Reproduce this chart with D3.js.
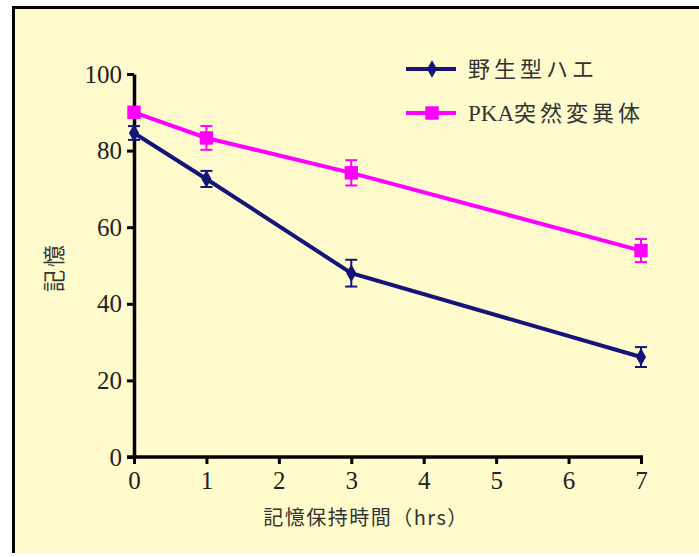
<!DOCTYPE html>
<html><head><meta charset="utf-8">
<script src="https://cdn.jsdelivr.net/npm/d3@7"></script>
<style>html,body{margin:0;padding:0;background:#fff;}</style>
</head><body>
<svg id="c" width="699" height="557"></svg>
<script>
const hours = [0, 1, 3, 7];
const wildValues = [84.6, 72.6, 48.0, 26.1];
const wildErrors = [1.8, 2.1, 3.5, 2.6];
const pkaValues = [90, 83.3, 74.2, 53.9];
const pkaErrors = [1.0, 3.1, 3.3, 3.0];
const seriesNames = ["野生型ハエ", "PKA突然変異体"];
const xTicks = [0, 1, 2, 3, 4, 5, 6, 7];
const yTicks = [0, 20, 40, 60, 80, 100];
const xTitle = "記憶保持時間（hrs）";
const yTitle = "記憶";

const svg = d3.select("#c");
svg.append("rect").attr("x", 14).attr("y", 8).attr("width", 690).attr("height", 545)
  .attr("fill", "#fffbcc");
svg.append("path").attr("d", "M13.5,553V7.5H699").attr("fill", "none")
  .attr("stroke", "#000").attr("stroke-width", 3);

const x = d3.scaleLinear().domain([0, 7]).range([134, 641]);
const y = d3.scaleLinear().domain([0, 100]).range([457, 74]);
const latin = "'Liberation Serif', 'DejaVu Serif', serif";
const cjk = "'Noto Sans CJK JP', sans-serif";

const xa = svg.append("g").attr("transform", "translate(0,457)")
  .call(d3.axisBottom(x).tickValues(xTicks).tickFormat(d3.format("d")).tickSize(7).tickPadding(7).tickSizeOuter(0));
const ya = svg.append("g").attr("transform", "translate(134,0)")
  .call(d3.axisLeft(y).tickValues(yTicks).tickFormat(d3.format("d")).tickSize(7).tickPadding(5).tickSizeOuter(0));
[xa, ya].forEach(a => {
  a.attr("font-size", null).attr("font-family", null);
  a.select(".domain").attr("stroke", "#000").attr("stroke-width", 3.5);
  a.selectAll(".tick line").attr("stroke", "#000").attr("stroke-width", 3);
  a.selectAll(".tick text").style("font-family", latin).style("font-size", "25px").attr("fill", "#222");
});
xa.select(".domain").attr("d", "M127,0H643");

svg.append("text").attr("x", 366).attr("y", 525).attr("text-anchor", "middle")
  .style("font-family", cjk).style("font-size", "20px").attr("letter-spacing", 1.5).attr("fill", "#333").text(xTitle);
svg.append("text").attr("transform", "translate(62,267) rotate(-90)").attr("text-anchor", "middle")
  .style("font-family", cjk).style("font-size", "22px").attr("letter-spacing", 3).attr("fill", "#333").text(yTitle);

const series = [
  {name: seriesNames[0], vals: wildValues, errs: wildErrors, color: "#14147a", shape: d3.symbolDiamond, size: 90},
  {name: seriesNames[1], vals: pkaValues, errs: pkaErrors, color: "#ff00ff", shape: d3.symbolSquare, size: 180}
];
const line = d3.line().x(d => x(d[0])).y(d => y(d[1]));
series.forEach(s => {
  const pts = hours.map((h, i) => [h, s.vals[i], s.errs[i]]);
  svg.append("path").attr("d", line(pts)).attr("fill", "none")
    .attr("stroke", s.color).attr("stroke-width", 4);
  const g = svg.append("g");
  pts.forEach(p => {
    const cx = x(p[0]);
    g.append("line").attr("x1", cx).attr("x2", cx).attr("y1", y(p[1] + p[2])).attr("y2", y(p[1] - p[2]))
      .attr("stroke", s.color).attr("stroke-width", 2);
    [p[1] + p[2], p[1] - p[2]].forEach(v => g.append("line").attr("x1", cx - 6).attr("x2", cx + 6)
      .attr("y1", y(v)).attr("y2", y(v)).attr("stroke", s.color).attr("stroke-width", 2));
    g.append("path").attr("d", d3.symbol(s.shape, s.size)()).attr("transform", `translate(${cx},${y(p[1])})`)
      .attr("fill", s.color);
  });
});

// legend
series.forEach((s, i) => {
  const ly = 69 + i * 44;
  svg.append("line").attr("x1", 406).attr("x2", 456).attr("y1", ly).attr("y2", ly)
    .attr("stroke", s.color).attr("stroke-width", 4);
  svg.append("path").attr("d", d3.symbol(s.shape, s.size)()).attr("transform", `translate(432,${ly})`)
    .attr("fill", s.color);
  const t = svg.append("text").attr("x", 468).attr("y", ly + 8).style("font-size", "22px").attr("fill", "#333");
  const m = s.name.match(/^([A-Za-z]*)(.*)$/);
  if (m[1]) t.append("tspan").style("font-family", latin).style("font-size", "23px").text(m[1]);
  t.append("tspan").style("font-family", cjk).attr("letter-spacing", 4).text(m[2]);
});
</script>
</body></html>
